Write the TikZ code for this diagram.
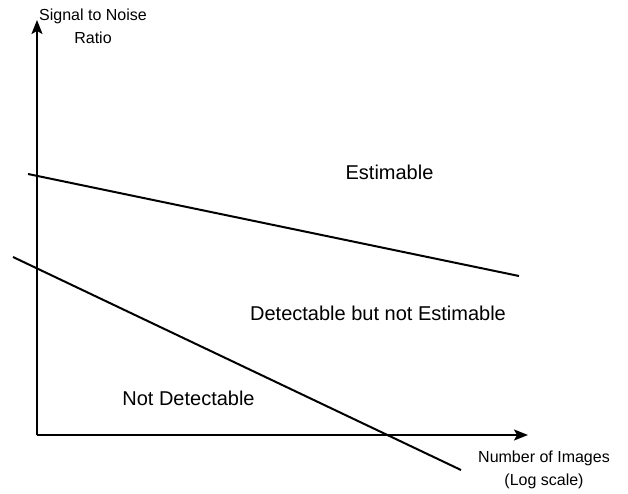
\documentclass[tikz,border=0pt]{standalone}
\usepackage{fontspec}
\setmainfont{Liberation Sans}
\usetikzlibrary{arrows.meta}
\begin{document}
\begin{tikzpicture}[x=1pt,y=-1pt,
  axis/.style={line width=2pt,-{Stealth[length=14pt,width=11pt,inset=3pt]}},
  boundary/.style={line width=2pt},
  biglabel/.style={font=\fontsize{20}{24}\selectfont,inner sep=0pt,anchor=base},
  smalllabel/.style={font=\fontsize{16}{23}\selectfont,inner sep=0pt,align=center,anchor=base}]
\useasboundingbox (0,0) rectangle (628,494);
\coordinate (origin) at (37,435);
\coordinate (ytip) at (37,20);
\coordinate (xtip) at (528,435);
\coordinate (ua) at (28,174);
\coordinate (ub) at (519,276);
\coordinate (la) at (13,257);
\coordinate (lb) at (461,470);
\draw[axis] (origin) -- (ytip);
\draw[axis] (origin) -- (xtip);
\draw[boundary] (ua) -- (ub);
\draw[boundary] (la) -- (lb);
\node[smalllabel] (snr) at (93,43.3) {Signal to Noise\\Ratio};
\node[smalllabel] (nimg) at (544,485) {Number of Images\\(Log scale)};
\node[biglabel] (est) at (389.5,179.3) {Estimable};
\node[biglabel] (det) at (378,320) {Detectable but not Estimable};
\node[biglabel] (notdet) at (188.5,405) {Not Detectable};
\end{tikzpicture}
\end{document}
